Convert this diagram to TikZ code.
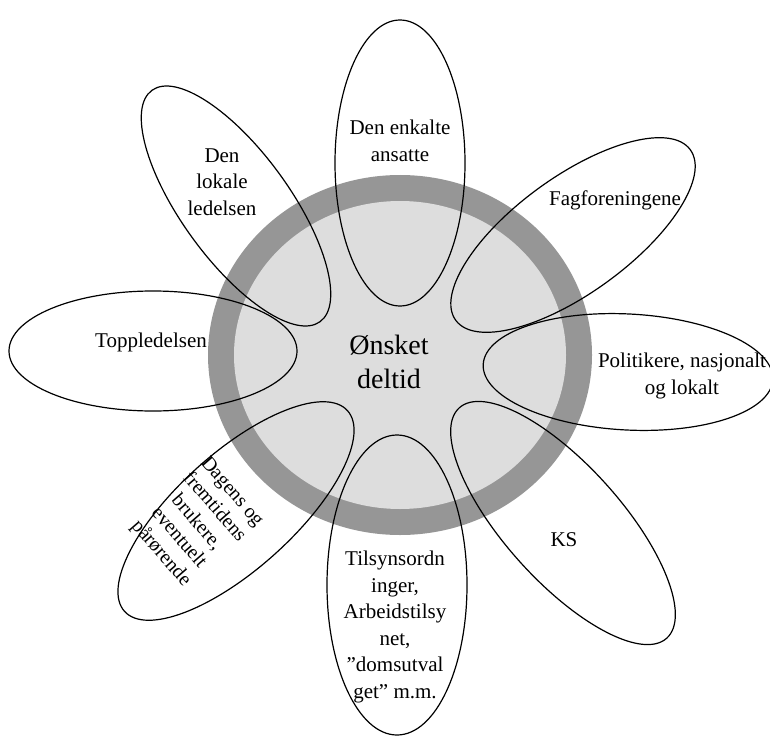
\documentclass[tikz,border=0pt]{standalone}
\usepackage{fontspec}
\setmainfont{Liberation Serif}
\usetikzlibrary{shapes.geometric}
\definecolor{ringgray}{RGB}{150,150,150}
\definecolor{hubgray}{RGB}{221,221,221}
\begin{document}
\begin{tikzpicture}[x=1pt,y=-1pt,
  petal/.style={draw=black, line width=1.2pt, ellipse, inner sep=0pt, outer sep=0pt},
  lbl/.style={align=center, font=\fontsize{21}{26.5}\selectfont, inner sep=0pt},
  ringshape/.style={ellipse, fill=ringgray, inner sep=0pt, outer sep=0pt},
  hubshape/.style={ellipse, fill=hubgray, inner sep=0pt, outer sep=0pt}]
\useasboundingbox (0,0) rectangle (770,738);

% central disc with its grey rim
\node[ringshape, minimum width=384pt, minimum height=360pt] (ring) at (400,355) {};
\node[hubshape, minimum width=332pt, minimum height=308pt] (hub) at (400,355) {};

% petals
\node[petal, minimum width=130pt, minimum height=286pt] (p1) at (400,163) {};
\node[petal, minimum width=290pt, minimum height=116pt, rotate=36] (p2) at (573,235) {};
\node[petal, minimum width=290pt, minimum height=116pt, rotate=-3] (p3) at (628,372) {};
\node[petal, minimum width=310pt, minimum height=116pt, rotate=-48] (p4) at (563,523) {};
\node[petal, minimum width=140pt, minimum height=300pt] (p5) at (397,585) {};
\node[petal, minimum width=300pt, minimum height=116pt, rotate=42] (p6) at (236,511) {};
\node[petal, minimum width=288pt, minimum height=120pt] (p7) at (153,351) {};
\node[petal, minimum width=286pt, minimum height=108pt, rotate=-54] (p8) at (236,206) {};

% labels
\node[align=center, inner sep=0pt, font=\fontsize{28}{34}\selectfont] (core) at (389,362) {Ønsket\\deltid};
\node[lbl] (t1) at (400,141) {Den enkalte\\ansatte};
\node[lbl] (t2) at (615,200) {Fagforeningene};
\node[lbl] (t3) at (682,376) {Politikere, nasjonalt\\og lokalt};
\node[lbl] (t4) at (564,540) {KS};
\node[lbl] (t5) at (395,627) {Tilsynsordn\\inger,\\Arbeidstilsy\\net,\\”domsutval\\get” m.m.};
\node[lbl, font=\fontsize{20}{23.5}\selectfont, rotate=-49] (t6) at (196,523) {Dagens og\\fremtidens\\brukere,\\eventuelt\\pårørende};
\node[lbl] (t7) at (151,342) {Toppledelsen};
\node[lbl] (t8) at (222,182) {Den\\lokale\\ledelsen};
\end{tikzpicture}
\end{document}
